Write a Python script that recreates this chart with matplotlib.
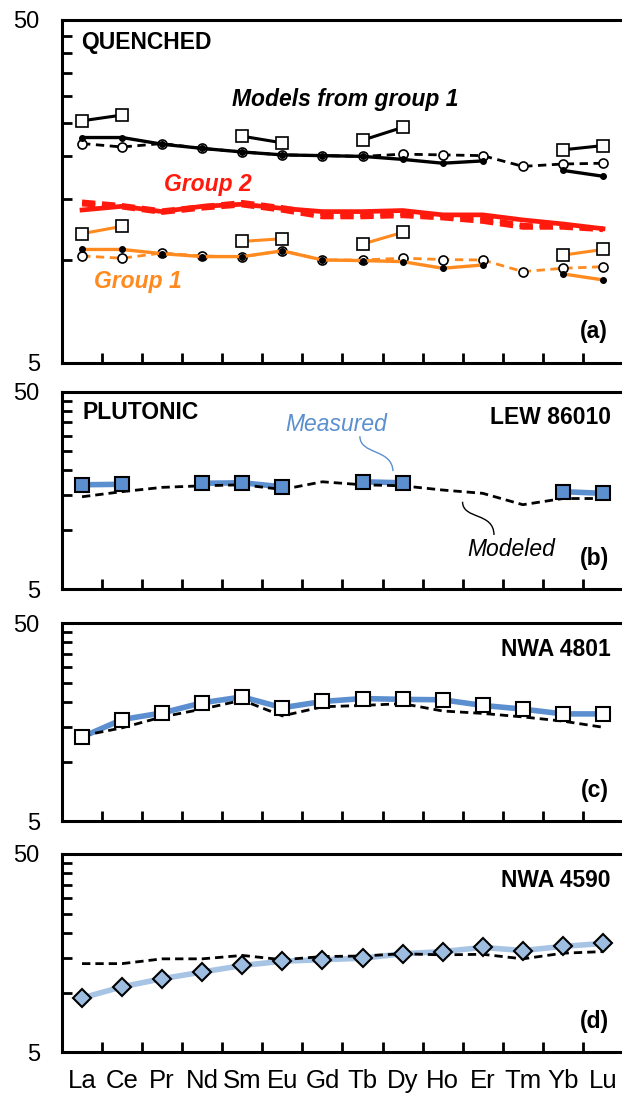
import numpy as np
import matplotlib.pyplot as plt
from matplotlib.path import Path
from matplotlib.patches import PathPatch
from matplotlib.ticker import FixedLocator, NullFormatter

plt.rcParams['font.family'] = ['Liberation Sans', 'DejaVu Sans']

nan = np.nan
ree = ['La', 'Ce', 'Pr', 'Nd', 'Sm', 'Eu', 'Gd', 'Tb', 'Dy', 'Ho', 'Er', 'Tm', 'Yb', 'Lu']

# (a) quenched - models from group 1 (black)
blk_sq = [25.4, 26.4, nan, nan, 22.9, 21.9, nan, 22.3, 24.3, nan, nan, nan, 20.9, 21.5]
blk_dot = [22.7, 22.7, 21.7, 21.1, 20.6, 20.2, 20.1, 20.0, 19.6, 19.1, 19.4, nan, 18.2, 17.5]
blk_open = [21.8, 21.3, 21.8, 21.1, 20.6, 20.2, 20.1, 20.0, 20.3, 20.2, 20.1, 18.7, 19.0, 19.1]
# group 2 (red)
red_solid = [13.95, 14.3, 13.8, 14.3, 14.5, 14.1, 13.8, 13.8, 13.9, 13.5, 13.5, 13.05, 12.7, 12.3]
red_dash1 = [14.75, 14.4, 13.9, 14.3, 14.7, 14.2, 13.6, 13.5, 13.6, 13.4, 13.2, 12.6, 12.5, 12.3]
red_dash2 = [14.5, 14.2, 13.7, 14.1, 14.4, 13.9, 13.3, 13.3, 13.4, 13.2, 12.9, 12.4, 12.4, 12.2]
# group 1 (orange)
org_sq = [11.9, 12.5, nan, nan, 11.3, 11.5, nan, 11.1, 12.0, nan, nan, nan, 10.3, 10.7]
org_dot = [10.7, 10.7, 10.4, 10.2, 10.2, 10.6, 9.97, 9.93, 9.86, 9.43, 9.64, nan, 9.08, 8.72]
org_open = [10.24, 10.09, 10.45, 10.24, 10.19, 10.61, 9.97, 9.97, 10.09, 10.0, 9.97, 9.22, 9.43, 9.53]

# (b) LEW 86010
meas_b = [16.9, 17.0, nan, 17.2, 17.3, 16.5, nan, 17.5, 17.3, nan, nan, nan, 15.6, 15.3]
mod_b = [14.7, 15.6, 16.4, 16.7, 16.9, 16.0, 17.5, 16.9, 16.7, 15.9, 15.3, 13.4, 14.4, 14.4]
# (c) NWA 4801
meas_c = [13.3, 16.3, 17.6, 19.8, 21.2, 18.7, 20.1, 20.8, 20.6, 20.5, 19.2, 18.4, 17.4, 17.4]
mod_c = [13.5, 14.8, 16.8, 18.4, 20.4, 17.0, 18.9, 19.2, 19.6, 18.0, 17.5, 16.8, 16.0, 14.9]
# (d) NWA 4590
meas_d = [9.4, 10.7, 11.75, 12.7, 13.7, 14.4, 14.65, 14.9, 15.7, 16.1, 16.9, 16.3, 17.1, 17.7]
mod_d = [14.0, 14.0, 14.8, 14.8, 15.4, 14.65, 15.2, 15.3, 15.7, 15.5, 15.6, 14.8, 15.8, 16.1]

x = np.arange(1, len(ree) + 1)
W, H = 622, 1099
fig = plt.figure(figsize=(W / 100, H / 100), dpi=100)
FS = 16.5


def make_ax(top, bottom):
    ax = fig.add_axes([62 / W, 1 - bottom / H, 561 / W, (bottom - top) / H])
    ax.set_yscale('log')
    ax.set_ylim(5, 50)
    ax.set_xlim(0.5, 14.5)
    ax.yaxis.set_major_locator(FixedLocator([5, 50]))
    ax.set_yticklabels(['5', '50'])
    ax.yaxis.set_minor_locator(FixedLocator([10, 15, 20, 25, 30, 35, 40, 45]))
    ax.yaxis.set_minor_formatter(NullFormatter())
    ax.set_xticks(x)
    ax.set_xticks(x[:-1] + 0.5, minor=True)
    ax.tick_params(axis='both', which='major', length=0, labelsize=17, pad=16)
    ax.tick_params(axis='x', which='major', pad=12, labelsize=18.5)
    ax.tick_params(which='minor', direction='in', length=7, width=2)
    for s in ax.spines.values():
        s.set_linewidth(2.2)
    ax.spines['right'].set_visible(False)
    ax.set_xticklabels([])
    return ax


ax_a = make_ax(20, 362.7)
ax_b = make_ax(391.7, 589.3)
ax_c = make_ax(623, 821.3)
ax_d = make_ax(854, 1052.3)

orange = '#ff8a1f'
red = '#ff1a0d'
blue = '#5b8fcf'
lblue = '#a7c4e5'

# panel a
ax = ax_a
ax.plot(x, red_dash1, color=red, lw=3.2, ls=(0, (3, 1.5)), zorder=2)
ax.plot(x, red_dash2, color=red, lw=3.2, ls=(0, (3, 1.5)), zorder=2)
ax.plot(x, red_solid, color=red, lw=3.4, zorder=2)
for dot, opn, sq, col in [(blk_dot, blk_open, blk_sq, 'black'), (org_dot, org_open, org_sq, orange)]:
    ax.plot(x, opn, color=col, lw=2, ls=(0, (3, 2)), marker='o', ms=6.5,
            mfc='white', mec='black', mew=1.2, zorder=3)
    ax.plot(x, dot, color=col, lw=2.4, marker='o', ms=4, mfc='black', mec='black', zorder=4)
    ax.plot(x, sq, color=col, lw=2.2, marker='s', ms=8.5, mfc='white', mec='black', mew=1.2, zorder=5)

ax.text(0.034, 0.933, 'QUENCHED', transform=ax.transAxes, fontsize=FS, fontweight='bold', va='center')
ax.text(0.303, 0.767, 'Models from group 1', transform=ax.transAxes, fontsize=FS,
        fontweight='bold', style='italic', va='center')
ax.text(0.182, 0.519, 'Group 2', transform=ax.transAxes, fontsize=FS, fontweight='bold',
        style='italic', color=red, va='center')
ax.text(0.057, 0.236, 'Group 1', transform=ax.transAxes, fontsize=FS, fontweight='bold',
        style='italic', color=orange, va='center')
ax.text(0.973, 0.09, '(a)', transform=ax.transAxes, fontsize=FS, fontweight='bold', ha='right', va='center')

# panels b-d
panels = [(ax_b, meas_b, mod_b, blue, 's', blue, 10, 'LEW 86010', '(b)'),
          (ax_c, meas_c, mod_c, blue, 's', 'white', 10, 'NWA 4801', '(c)'),
          (ax_d, meas_d, mod_d, lblue, 'D', '#9dbde0', 9.5, 'NWA 4590', '(d)')]
for ax, meas, mod, lc, mk, fc, ms, name, tag in panels:
    ax.plot(x, meas, color=lc, lw=4, zorder=2, solid_capstyle='butt')
    ax.plot(x, mod, color='black', lw=2, ls=(0, (3, 1.8)), zorder=3)
    ax.plot(x, meas, ls='none', marker=mk, ms=ms, mfc=fc, mec='black', mew=1.5, zorder=4)
    ax.text(0.978, 0.867, name, transform=ax.transAxes, fontsize=FS, fontweight='bold', ha='right', va='center')
    ax.text(0.975, 0.155, tag, transform=ax.transAxes, fontsize=FS, fontweight='bold', ha='right', va='center')

ax_b.text(0.037, 0.894, 'PLUTONIC', transform=ax_b.transAxes, fontsize=FS, fontweight='bold', va='center')
ax_b.text(0.488, 0.836, 'Measured', transform=ax_b.transAxes, fontsize=FS, style='italic',
          color=blue, ha='center', va='center')
ax_b.text(0.80, 0.202, 'Modeled', transform=ax_b.transAxes, fontsize=FS, style='italic',
          ha='center', va='center')

codes = [Path.MOVETO, Path.CURVE4, Path.CURVE4, Path.CURVE4]
p1 = Path([(0.531, 0.775), (0.531, 0.679), (0.588, 0.714), (0.590, 0.598)], codes)
p2 = Path([(0.714, 0.443), (0.714, 0.352), (0.770, 0.392), (0.770, 0.275)], codes)
ax_b.add_patch(PathPatch(p1, transform=ax_b.transAxes, fill=False, ec=blue, lw=1))
ax_b.add_patch(PathPatch(p2, transform=ax_b.transAxes, fill=False, ec='black', lw=1))

ax_d.set_xticklabels(ree)

fig.savefig('out.png', dpi=100)
